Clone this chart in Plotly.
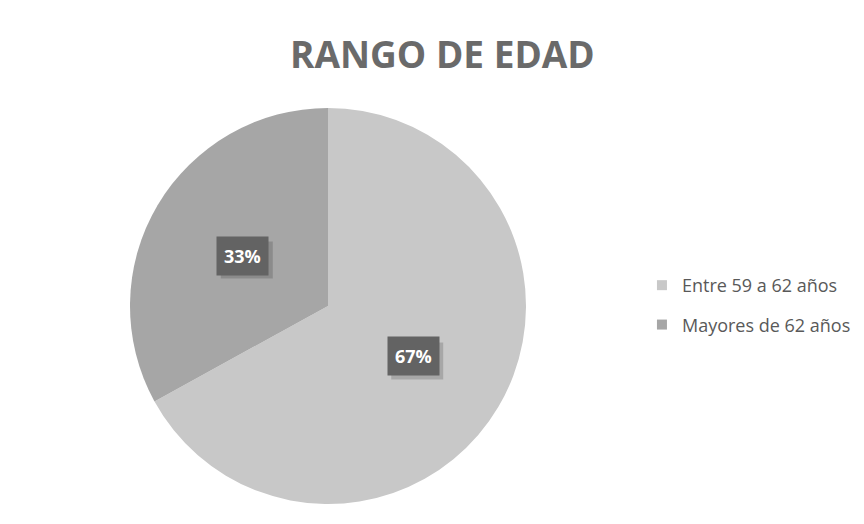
import numpy as np
import plotly.graph_objects as go

labels = ['Entre 59 a 62 años', 'Mayores de 62 años']
values = [67, 33]
slice_colors = ['#c8c8c8', '#a6a6a6']

W, H = 864, 524
cx, cy, r = 328, 306, 198  # pie centre / radius in pixels

fig = go.Figure()
fig.add_trace(go.Pie(
    labels=labels,
    values=values,
    sort=False,
    direction='clockwise',
    rotation=0,
    marker=dict(colors=slice_colors, line=dict(width=0)),
    textinfo='none',
    hoverinfo='label+percent',
    showlegend=False,
    domain=dict(x=[(cx - r) / W, (cx + r) / W], y=[(H - cy - r) / H, (H - cy + r) / H]),
))

# legend entries (separate groups so the gap between them can be set)
for lab, col in zip(labels, slice_colors):
    fig.add_trace(go.Scatter(
        x=[None], y=[None], mode='markers', name=lab, legendgroup=lab,
        marker=dict(symbol='square', size=10, color=col),
    ))

# percentage labels in dark boxes, halfway along each slice's bisector
total = sum(values)
start = 0.0
for v in values:
    mid = (start + v / 2) / total * 2 * np.pi
    start += v
    ax = (cx + 0.5 * r * np.sin(mid)) / W
    ay = 1 - (cy - 0.5 * r * np.cos(mid)) / H
    # soft drop shadow behind the box
    fig.add_shape(type='rect', xref='paper', yref='paper', xsizemode='pixel', ysizemode='pixel',
                  xanchor=ax, yanchor=ay, x0=-22, x1=30, y0=-23, y1=14,
                  fillcolor='rgba(0,0,0,0.16)', line=dict(width=0), layer='above')
    fig.add_annotation(x=ax, y=ay, xref='paper', yref='paper', showarrow=False,
                       xanchor='center', yanchor='middle', borderpad=7, bgcolor='#636363',
                       text=f'<b>{round(v / total * 100)}%</b>',
                       font=dict(family='Open Sans', size=18, color='white'))

fig.update_layout(
    width=W,
    height=H,
    title=dict(text='<b>RANGO DE EDAD</b>', x=0.512, xanchor='center', y=0.895, yanchor='middle',
               font=dict(family='Open Sans', size=37, color='#6a6a6a')),
    legend=dict(x=0.743, y=0.418, xanchor='left', yanchor='middle',
                font=dict(family='Open Sans', size=18, color='#595959'),
                tracegroupgap=13, itemclick=False),
    xaxis=dict(visible=False),
    yaxis=dict(visible=False),
    paper_bgcolor='white',
    plot_bgcolor='white',
    margin=dict(l=0, r=0, t=0, b=0),
)

fig.write_html('out.html', config={'displayModeBar': False},
               post_script="document.body.style.margin='0';")
